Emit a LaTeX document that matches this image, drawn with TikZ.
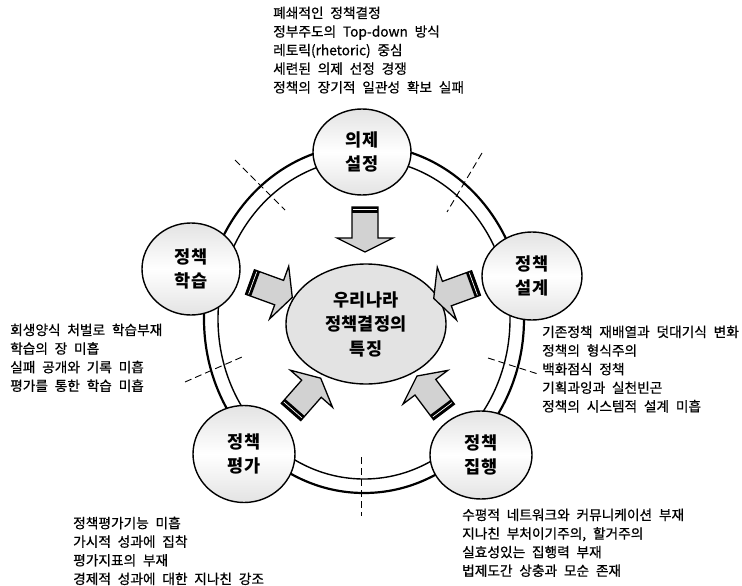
\documentclass[tikz,border=0pt]{standalone}
\usepackage{fontspec}
\setmainfont{Noto Sans CJK KR}[WordSpace=2.2]
\newfontfamily\notefont{Noto Sans CJK KR}[WordSpace=2.2, FakeBold=0.6]
\usetikzlibrary{shapes.geometric}
\tikzset{
  stage/.style={ellipse, draw, line width=1.4pt, top color=gray!22, bottom color=gray!22, middle color=white,
    inner sep=0pt, align=center, font=\fontsize{17.5}{24}\selectfont\bfseries},
  core/.style={ellipse, draw, line width=1.4pt, fill=gray!22, inner sep=0pt, align=center,
    font=\fontsize{17.5}{24.5}\selectfont\bfseries},
  note/.style={anchor=north west, inner sep=0pt, align=left, font=\notefont\fontsize{13.7}{18.6}\selectfont},
  sepline/.style={dash pattern=on 7pt off 4pt, line width=0.9pt},
  blk/.style={fill=gray!35, draw, line width=1.3pt, line join=miter},
  ringout/.style={line width=2.2pt},
  ringin/.style={line width=1.4pt}
}
\newcommand{\blkarrow}[3]{%
  \begin{scope}[shift={(#1,#2)}, rotate=#3]
    \draw[blk] (0,-13) -- (31,-13) -- (31,-28) -- (45,0) -- (31,28) -- (31,13) -- (0,13) -- cycle;
    \fill (0,-13) rectangle (6,13);
    \draw[white, line width=0.7pt] (2.8,-12) -- (2.8,12);
  \end{scope}}
\begin{document}
\begin{tikzpicture}[x=1pt, y=-1pt]
\useasboundingbox (0,0) rectangle (742,586);
\fill[white] (0,0) rectangle (742,586);

% ring
\draw[ringout] (364,319) ellipse [x radius=160, y radius=174];
\draw[ringin] (364,319) ellipse [x radius=146, y radius=160];

% dashed separators
\coordinate (d1a) at (482,153); \coordinate (d1b) at (447,212);
\coordinate (d2a) at (235,160); \coordinate (d2b) at (285,210);
\coordinate (d3a) at (185,382); \coordinate (d3b) at (242,357);
\coordinate (d4a) at (488,358); \coordinate (d4b) at (538,374);
\coordinate (d5a) at (361,457); \coordinate (d5b) at (361,516);
\draw[sepline] (d1a) -- (d1b);
\draw[sepline] (d2a) -- (d2b);
\draw[sepline] (d3a) -- (d3b);
\draw[sepline] (d4a) -- (d4b);
\draw[sepline] (d5a) -- (d5b);

% stage circles
\node[stage, minimum width=98, minimum height=86] (yj) at (362,152) {의제\\설정};
\node[stage, minimum width=98, minimum height=92] (hs) at (191,269) {정책\\학습};
\node[stage, minimum width=100, minimum height=88] (sg) at (532,276) {정책\\설계};
\node[stage, minimum width=102, minimum height=97] (pg) at (244,454) {정책\\평가};
\node[stage, minimum width=102, minimum height=88] (jh) at (481,455) {정책\\집행};

% centre
\node[core, minimum width=160, minimum height=120] (ct) at (366,324) {우리나라\\정책결정의\\특징};

% block arrows (tail x, tail y, angle)
\blkarrow{365}{207}{-90}
\blkarrow{250}{282}{-20}
\blkarrow{476}{283}{-160}
\blkarrow{291}{412}{48.7}
\blkarrow{444}{412}{126.9}

% notes
\node[note] (tTop) at (273,6.5) {폐쇄적인 정책결정\\정부주도의 Top-down 방식\\레토릭(rhetoric) 중심\\세련된 의제 선정 경쟁\\정책의 장기적 일관성 확보 실패};
\node[note] (tLeft) at (10,323.5) {회생양식 처벌로 학습부재\\학습의 장 미흡\\실패 공개와 기록 미흡\\평가를 통한 학습 미흡};
\node[note] (tRight) at (542,325.5) {기존정책 재배열과 덧대기식 변화\\정책의 형식주의\\백화점식 정책\\기획과잉과 실천빈곤\\정책의 시스템적 설계 미흡};
\node[note] (tBL) at (73,516.5) {정책평가기능 미흡\\가시적 성과에 집착\\평가지표의 부재\\경제적 성과에 대한 지나친 강조};
\node[note] (tBR) at (462,508.5) {수평적 네트워크와 커뮤니케이션 부재\\지나친 부처이기주의, 할거주의\\실효성있는 집행력 부재\\법제도간 상충과 모순 존재};
\end{tikzpicture}
\end{document}
